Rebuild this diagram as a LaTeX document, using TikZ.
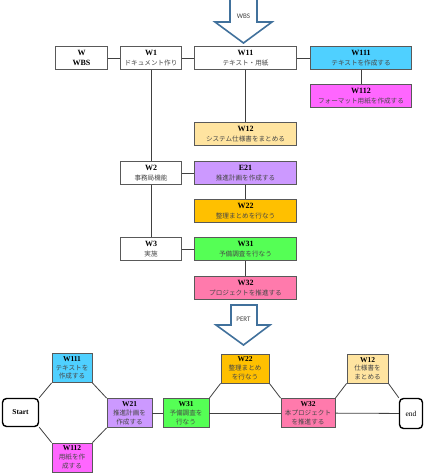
\documentclass[tikz,border=0pt]{standalone}
\usepackage{fontspec}
\setmainfont{Liberation Serif}
\newfontfamily\jpface{Noto Sans CJK JP}
\newcommand{\jp}{\jpface\fontsize{6.6}{9}\selectfont\color{black!72}}
\newfontfamily\arrowfont{Carlito}
\usepackage{tikz}
\usetikzlibrary{arrows.meta,positioning}
\usepackage{xcolor}
\definecolor{wsBorder}{HTML}{595959}
\definecolor{wsLine}{HTML}{404040}
\definecolor{wsArrow}{HTML}{41719C}
\definecolor{wsCyan}{HTML}{4FD0FF}
\definecolor{wsMagenta}{HTML}{FF66FF}
\definecolor{wsPeach}{HTML}{FFE4A0}
\definecolor{wsPurple}{HTML}{CC99FF}
\definecolor{wsOrange}{HTML}{FFC000}
\definecolor{wsGreen}{HTML}{55FF55}
\definecolor{wsPink}{HTML}{FF7AAC}
\tikzset{
    every picture/.style={>=stealth},
    wbsbox/.style={draw=wsBorder, fill=white, line width=0.9pt, minimum height=23pt, inner sep=1pt, align=center, font=\fontsize{8}{9.5}\selectfont},
    pertbox/.style={draw=wsBorder, fill=white, line width=0.8pt, minimum height=29pt, inner sep=1pt, align=center, font=\fontsize{7.5}{8.8}\selectfont},
    terminal/.style={draw=black, fill=white, rounded corners=4pt, line width=1.4pt, align=center, inner sep=1pt, font=\fontsize{7.5}{9}\selectfont},
    link/.style={draw=wsLine, line width=0.8pt},
    blockarrow/.style={draw=wsArrow, fill=white, line width=1.6pt, line join=miter}
}

\begin{document}
\begin{tikzpicture}[x=1pt, y=-1pt]
    \useasboundingbox (0,0) rectangle (425,474);

    % WBS arrow
    \draw[blockarrow] (230,-2) -- (257,-2) -- (257,22) -- (272,22) -- (243.5,43) -- (215,22) -- (230,22) -- cycle;
    \node[font=\arrowfont\fontsize{7}{8}\selectfont, text=black!75] (wbslabel) at (243.5,16) {WBS};

    % WBS tree
    \node[wbsbox, minimum width=52pt] (w) at (81.5,58) {\textbf{W}\\\textbf{WBS}};
    \node[wbsbox, minimum width=61pt] (w1) at (151,58) {\textbf{W1}\\{\jp ドキュメント作り}};
    \node[wbsbox, minimum width=102pt] (w11) at (245.5,58) {\textbf{W11}\\{\jp テキスト・用紙}};
    \node[wbsbox, minimum width=101pt, fill=wsCyan] (w111) at (361,58) {\textbf{W111}\\{\jp テキストを作成する}};
    \node[wbsbox, minimum width=101pt, fill=wsMagenta] (w112) at (361,96) {\textbf{W112}\\{\jp フォーマット用紙を作成する}};
    \node[wbsbox, minimum width=102pt, fill=wsPeach] (w12) at (245.5,134) {\textbf{W12}\\{\jp システム仕様書をまとめる}};
    \node[wbsbox, minimum width=61pt] (w2) at (151,173) {\textbf{W2}\\{\jp 事務局機能}};
    \node[wbsbox, minimum width=102pt, fill=wsPurple] (e21) at (245.5,173) {\textbf{E21}\\{\jp 推進計画を作成する}};
    \node[wbsbox, minimum width=102pt, fill=wsOrange] (w22) at (245.5,211) {\textbf{W22}\\{\jp 整理まとめを行なう}};
    \node[wbsbox, minimum width=61pt] (w3) at (151,249) {\textbf{W3}\\{\jp 実施}};
    \node[wbsbox, minimum width=102pt, fill=wsGreen] (w31) at (245.5,249) {\textbf{W31}\\{\jp 予備調査を行なう}};
    \node[wbsbox, minimum width=102pt, fill=wsPink] (w32) at (245.5,288) {\textbf{W32}\\{\jp プロジェクトを推進する}};

    % tree links
    \draw[link] (w) -- (w1);
    \draw[link] (w1) -- (w11);
    \draw[link] (w11) -- (w111);
    \draw[link] (w111) -- (w112);
    \draw[link] (w11) -- (w12);
    \draw[link] (w1) -- (w2);
    \draw[link] (w2) -- (e21);
    \draw[link] (e21) -- (w22);
    \draw[link] (w2) -- (w3);
    \draw[link] (w3) -- (w31);
    \draw[link] (w31) -- (w32);

    % PERT arrow
    \draw[blockarrow] (231,305) -- (257,305) -- (257,325) -- (270,325) -- (243.5,345) -- (216,325) -- (231,325) -- cycle;
    \node[font=\arrowfont\fontsize{7}{8}\selectfont, text=black!75] (pertlabel) at (243.5,319) {PERT};

    % PERT network
    \node[terminal, minimum width=36pt, minimum height=28pt] (start) at (20.5,412.5) {\textbf{Start}};
    \node[pertbox, minimum width=40pt, fill=wsCyan] (p111) at (72,368) {\textbf{W111}\\{\jp テキストを}\\{\jp 作成する}};
    \node[pertbox, minimum width=40pt, fill=wsMagenta] (p112) at (72,457.5) {\textbf{W112}\\{\jp 用紙を作}\\{\jp 成する}};
    \node[pertbox, minimum width=45pt, fill=wsPurple] (p21) at (129.5,413) {\textbf{W21}\\{\jp 推進計画を}\\{\jp 作成する}};
    \node[pertbox, minimum width=46pt, fill=wsGreen] (p31) at (186,413) {\textbf{W31}\\{\jp 予備調査を}\\{\jp 行なう}};
    \node[pertbox, minimum width=48pt, fill=wsOrange] (p22) at (245,368.5) {\textbf{W22}\\{\jp 整理まとめ}\\{\jp を行なう}};
    \node[pertbox, minimum width=54pt, fill=wsPink] (p32) at (308,413) {\textbf{W32}\\{\jp 本プロジェクト}\\{\jp を推進する}};
    \node[pertbox, minimum width=41pt, fill=wsPeach] (p12) at (367.5,368.5) {\textbf{W12}\\{\jp 仕様書を}\\{\jp まとめる}};
    \node[terminal, minimum width=23pt, minimum height=30pt] (end) at (411,413.5) {end};

    % PERT links
    \draw[link] (start.north east) -- (p111.south west);
    \draw[link] (start.south east) -- (p112.north west);
    \draw[link] (p111.south east) -- (p21.north west);
    \draw[link] (p112.north east) -- (p21.south west);
    \draw[link] (p21) -- (p31);
    \draw[link] (p31.north east) -- (p22.south west);
    \draw[link] (p22.south east) -- (p32.north west);
    \draw[link] (p31) -- (p32);
    \draw[link] (p32.north east) -- (p12.south west);
    \draw[link] (p12.south east) -- (end.north west);
    \draw[link] (p32) -- (end);

\end{tikzpicture}
\end{document}
